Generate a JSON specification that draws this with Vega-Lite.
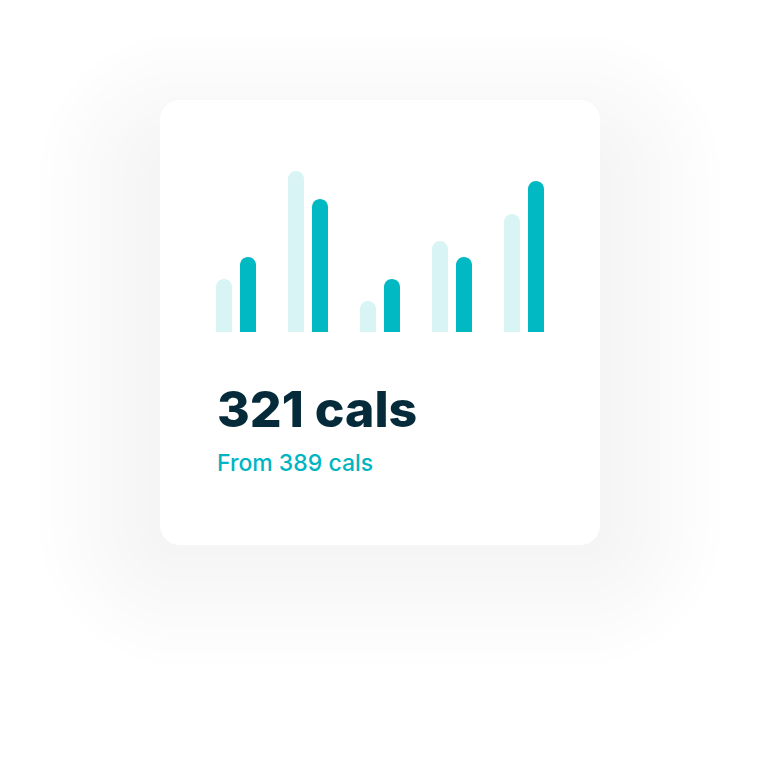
{
  "$schema": "https://vega.github.io/schema/vega-lite/v6.json",
  "width": 440,
  "height": 445,
  "autosize": {"type": "none"},
  "padding": {"left": 160, "top": 100, "right": 160, "bottom": 221},
  "background": "#ffffff",
  "config": {"view": {"stroke": null, "fill": null}},
  "title": {
    "text": "321 cals",
    "subtitle": "From 389 cals",
    "orient": "bottom",
    "anchor": "start",
    "frame": "group",
    "dx": 57,
    "offset": -278,
    "font": "Inter",
    "fontSize": 50,
    "fontWeight": 800,
    "color": "#052b3b",
    "subtitleFont": "Inter",
    "subtitleFontSize": 23,
    "subtitleFontWeight": 500,
    "subtitleColor": "#00b5c1",
    "subtitlePadding": 16
  },
  "datasets": {
    "card": [{"card": "main"}],
    "bars": [
      {"day": "1", "series": "previous", "cals": 53},
      {"day": "1", "series": "current", "cals": 75},
      {"day": "2", "series": "previous", "cals": 161},
      {"day": "2", "series": "current", "cals": 133},
      {"day": "3", "series": "previous", "cals": 31},
      {"day": "3", "series": "current", "cals": 53},
      {"day": "4", "series": "previous", "cals": 91},
      {"day": "4", "series": "current", "cals": 75},
      {"day": "5", "series": "previous", "cals": 118},
      {"day": "5", "series": "current", "cals": 151}
    ]
  },
  "layer": [
    {"data": {"name": "card"}, "mark": {"type": "rect", "filled": false, "stroke": "#36414d", "strokeOpacity": 0.0045, "strokeWidth": 240, "cornerRadius": 20, "strokeJoin": "round", "yOffset": 55, "y2Offset": 55}, "encoding": {}},
    {"data": {"name": "card"}, "mark": {"type": "rect", "filled": false, "stroke": "#36414d", "strokeOpacity": 0.0045, "strokeWidth": 216, "cornerRadius": 20, "strokeJoin": "round", "yOffset": 55, "y2Offset": 55}, "encoding": {}},
    {"data": {"name": "card"}, "mark": {"type": "rect", "filled": false, "stroke": "#36414d", "strokeOpacity": 0.0045, "strokeWidth": 192, "cornerRadius": 20, "strokeJoin": "round", "yOffset": 55, "y2Offset": 55}, "encoding": {}},
    {"data": {"name": "card"}, "mark": {"type": "rect", "filled": false, "stroke": "#36414d", "strokeOpacity": 0.0045, "strokeWidth": 168, "cornerRadius": 20, "strokeJoin": "round", "yOffset": 55, "y2Offset": 55}, "encoding": {}},
    {"data": {"name": "card"}, "mark": {"type": "rect", "filled": false, "stroke": "#36414d", "strokeOpacity": 0.0045, "strokeWidth": 144, "cornerRadius": 20, "strokeJoin": "round", "yOffset": 55, "y2Offset": 55}, "encoding": {}},
    {"data": {"name": "card"}, "mark": {"type": "rect", "filled": false, "stroke": "#36414d", "strokeOpacity": 0.0045, "strokeWidth": 120, "cornerRadius": 20, "strokeJoin": "round", "yOffset": 55, "y2Offset": 55}, "encoding": {}},
    {"data": {"name": "card"}, "mark": {"type": "rect", "filled": false, "stroke": "#36414d", "strokeOpacity": 0.0045, "strokeWidth": 96, "cornerRadius": 20, "strokeJoin": "round", "yOffset": 55, "y2Offset": 55}, "encoding": {}},
    {"data": {"name": "card"}, "mark": {"type": "rect", "filled": false, "stroke": "#36414d", "strokeOpacity": 0.0045, "strokeWidth": 72, "cornerRadius": 20, "strokeJoin": "round", "yOffset": 55, "y2Offset": 55}, "encoding": {}},
    {"data": {"name": "card"}, "mark": {"type": "rect", "filled": false, "stroke": "#36414d", "strokeOpacity": 0.0045, "strokeWidth": 48, "cornerRadius": 20, "strokeJoin": "round", "yOffset": 55, "y2Offset": 55}, "encoding": {}},
    {"data": {"name": "card"}, "mark": {"type": "rect", "filled": false, "stroke": "#36414d", "strokeOpacity": 0.0045, "strokeWidth": 24, "cornerRadius": 20, "strokeJoin": "round", "yOffset": 55, "y2Offset": 55}, "encoding": {}},
    {"data": {"name": "card"}, "mark": {"type": "rect", "fill": "#ffffff", "cornerRadius": 20}, "encoding": {}},
    {
      "data": {"name": "bars"},
      "mark": {"type": "bar", "cornerRadiusTopLeft": 8, "cornerRadiusTopRight": 8},
      "encoding": {
        "x": {"field": "day", "type": "nominal", "axis": null, "scale": {"range": [56, 384], "paddingInner": 0.4444, "paddingOuter": 0}},
        "xOffset": {"field": "series", "type": "nominal", "sort": ["previous", "current"], "scale": {"paddingInner": 0.3333, "paddingOuter": 0}},
        "y": {"field": "cals", "type": "quantitative", "axis": null, "scale": {"domain": [0, 232], "range": [232, 0]}},
        "color": {"field": "series", "type": "nominal", "legend": null, "scale": {"domain": ["previous", "current"], "range": ["#d9f4f5", "#00b9c3"]}}
      }
    }
  ]
}
